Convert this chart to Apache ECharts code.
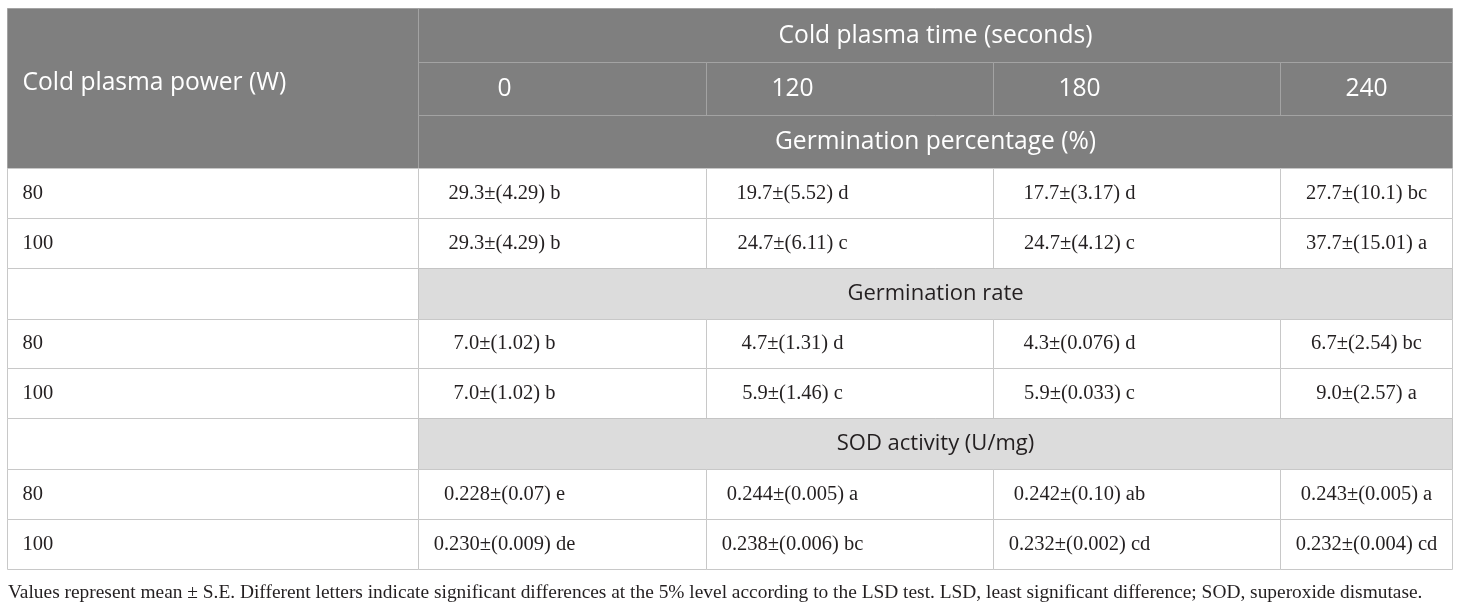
<!DOCTYPE html>
<html>
<head>
<meta charset="utf-8">
<script src="https://cdn.jsdelivr.net/npm/echarts@6/dist/echarts.min.js"></script>
<style>
html, body { margin: 0; padding: 0; background: #fff; }
#table { width: 1460px; height: 607px; }
</style>
</head>
<body>
<div id="table"></div>
<script>
var powerTitle = 'Cold plasma power (W)';
var timeTitle = 'Cold plasma time (seconds)';
var times = ['0', '120', '180', '240'];
var powers = ['80', '100'];
var sections = ['Germination percentage (%)', 'Germination rate', 'SOD activity (U/mg)'];

var germPercent80 = ['29.3±(4.29) b', '19.7±(5.52) d', '17.7±(3.17) d', '27.7±(10.1) bc'];
var germPercent100 = ['29.3±(4.29) b', '24.7±(6.11) c', '24.7±(4.12) c', '37.7±(15.01) a'];
var germRate80 = ['7.0±(1.02) b', '4.7±(1.31) d', '4.3±(0.076) d', '6.7±(2.54) bc'];
var germRate100 = ['7.0±(1.02) b', '5.9±(1.46) c', '5.9±(0.033) c', '9.0±(2.57) a'];
var sod80 = ['0.228±(0.07) e', '0.244±(0.005) a', '0.242±(0.10) ab', '0.243±(0.005) a'];
var sod100 = ['0.230±(0.009) de', '0.238±(0.006) bc', '0.232±(0.002) cd', '0.232±(0.004) cd'];

var note = 'Values represent mean ± S.E. Different letters indicate significant differences at the 5% level according to the LSD test. LSD, least significant difference; SOD, superoxide dismutase.';

// layout (pixels per column / row)
var colWidths = [411, 288, 287, 287, 172];
var rowHeights = [54, 53, 53, 50, 50, 51, 49, 50, 51, 50, 50];

function edges(list) {
    var out = [0];
    list.forEach(function (w) { out.push(out[out.length - 1] + w); });
    return out;
}
var colEdges = edges(colWidths);
var rowEdges = edges(rowHeights);

var SANS = '"Open Sans", "Noto Sans", sans-serif';
var SERIF = '"Liberation Serif", "DejaVu Serif", serif';

var cells = [];
function cell(c0, c1, r0, r1, text, kind, align) {
    cells.push({ c0: c0, c1: c1, r0: r0, r1: r1, text: text, kind: kind, align: align });
}

// header block
cell(0, 1, 0, 3, powerTitle, 'head', 'title');
cell(1, 5, 0, 1, timeTitle, 'head', 'center');
times.forEach(function (t, i) { cell(i + 1, i + 2, 1, 2, t, 'head', 'inset'); });
cell(1, 5, 2, 3, sections[0], 'head', 'center');

function dataRows(startRow, rowsOfValues) {
    rowsOfValues.forEach(function (vals, k) {
        var r = startRow + k;
        cell(0, 1, r, r + 1, powers[k], 'body', 'left');
        vals.forEach(function (v, i) { cell(i + 1, i + 2, r, r + 1, v, 'body', 'inset'); });
    });
}
function sectionRow(r, text) {
    cell(0, 1, r, r + 1, '', 'body', 'left');
    cell(1, 5, r, r + 1, text, 'section', 'center');
}

dataRows(3, [germPercent80, germPercent100]);
sectionRow(5, sections[1]);
dataRows(6, [germRate80, germRate100]);
sectionRow(8, sections[2]);
dataRows(9, [sod80, sod100]);

var fills = { head: '#7f7f7f', section: '#dcdcdc', body: '#ffffff' };
var strokes = { head: '#a3a3a3', section: '#c4c4c4', body: '#c8c8c8' };
var sizes = { head: 24.6, section: 22, body: 20.5 };

function renderItem(params, api) {
    var c = cells[params.dataIndex];
    var p0 = api.coord([api.value(0), api.value(1)]);
    var p1 = api.coord([api.value(2), api.value(3)]);
    var x0 = Math.round(p0[0]) + 0.5, y0 = Math.round(p0[1]) + 0.5;
    var x1 = Math.round(p1[0]) + 0.5, y1 = Math.round(p1[1]) + 0.5;
    var tx, ty = (y0 + y1) / 2, align = 'center';
    if (c.align === 'center') {
        tx = (x0 + x1) / 2;
    } else if (c.align === 'inset') {
        tx = x0 + 86;
    } else {
        tx = x0 + 15;
        align = 'left';
    }
    if (c.align === 'title') ty = y0 + 74;
    return {
        type: 'group',
        children: [
            {
                type: 'rect',
                shape: { x: x0, y: y0, width: x1 - x0, height: y1 - y0 },
                style: { fill: fills[c.kind], stroke: strokes[c.kind], lineWidth: 1 }
            },
            {
                type: 'text',
                style: {
                    text: c.text,
                    x: tx,
                    y: ty,
                    align: align,
                    verticalAlign: 'middle',
                    fill: c.kind === 'head' ? '#ffffff' : '#231f20',
                    fontFamily: c.kind === 'body' ? SERIF : SANS,
                    fontSize: sizes[c.kind]
                }
            }
        ]
    };
}

var chart = echarts.init(document.getElementById('table'));

var option = {
    animation: false,
    title: {
        text: note,
        left: 3,
        top: 578,
        textStyle: {
            fontFamily: SERIF,
            fontSize: 19.4,
            fontWeight: 'normal',
            color: '#231f20'
        }
    },
    grid: { left: 7, top: 8, width: colEdges[5], height: rowEdges[11] },
    xAxis: { type: 'value', min: 0, max: colEdges[5], show: false },
    yAxis: { type: 'value', min: 0, max: rowEdges[11], inverse: true, show: false },
    series: [{
        type: 'custom',
        renderItem: renderItem,
        encode: { x: [0, 2], y: [1, 3] },
        data: cells.map(function (c) {
            return [colEdges[c.c0], rowEdges[c.r0], colEdges[c.c1], rowEdges[c.r1]];
        })
    }]
};

chart.setOption(option);

window.onresize = chart.resize;
</script>
</body>
</html>
